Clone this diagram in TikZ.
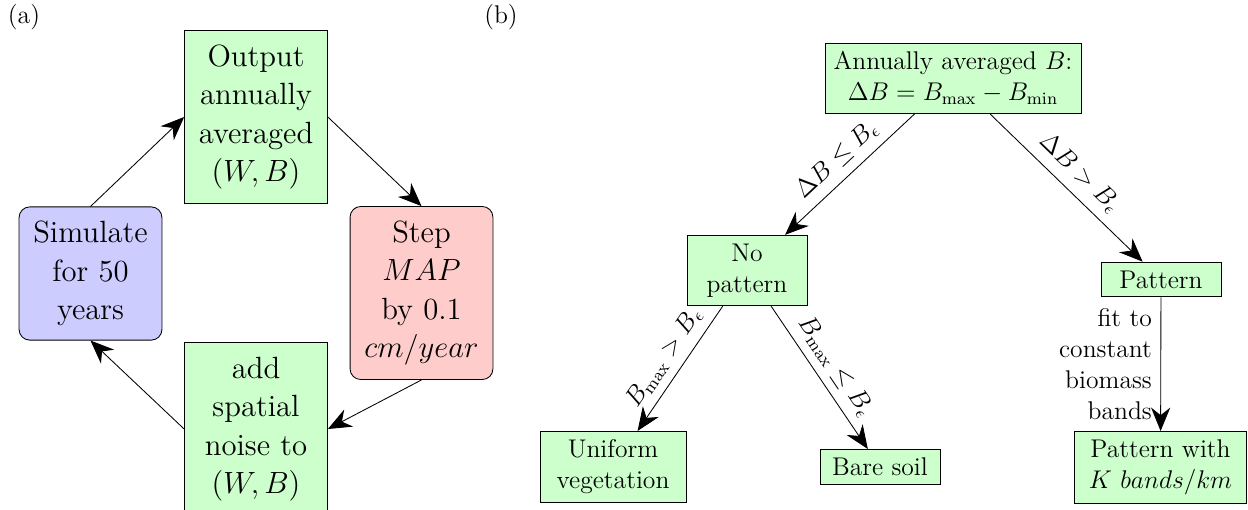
\documentclass[tikz,border=0pt,12pt]{standalone}
\usepackage{amsmath}
\usepackage{amssymb}
\usetikzlibrary{arrows.meta}

\tikzset{
    box/.style={draw, fill=green!20, align=center},
    loopbox/.style={box, font=\large, text width=59pt, inner ysep=6.7pt},
    treebox/.style={box, minimum width=56.3pt},
    flow/.style={-{Stealth[length=11pt,width=9pt]}},
}

\begin{document}
\begin{tikzpicture}[x=0.469pt, y=-0.469pt]
    \useasboundingbox (0,0) rectangle (1248,509);

    % (a): one step of the MAP sweep
    \node (lbla) at (24,17) {(a)};
    \node[loopbox] (output) at (256,117) {Output\\annually\\averaged\\$(W,B)$};
    \node[loopbox, fill=red!20, rounded corners=5pt] (stepmap) at (421.5,293) {Step\\$MAP$\\by 0.1\\$cm/year$};
    \node[loopbox] (noise) at (256,429) {add\\spatial\\noise to\\$(W,B)$};
    \node[loopbox, fill=blue!20, rounded corners=5pt] (simulate) at (90.5,273.5) {Simulate\\for 50\\years};

    \draw[flow] (simulate.north) -- (output.west);
    \draw[flow] (output.east) -- (stepmap.north);
    \draw[flow] (stepmap.south) -- (noise.east);
    \draw[flow] (noise.west) -- (simulate.south);

    % (b): classifying the final state
    \node (lblb) at (501,17) {(b)};
    \node[treebox] (avg) at (953,78) {Annually averaged $B$:\\$\Delta B = B_{\max} - B_{\min}$};
    \node[treebox] (nopat) at (747,270.5) {No\\pattern};
    \node[treebox] (pat) at (1161,279.5) {Pattern};
    \node[treebox, minimum width=68.5pt] (uniform) at (613,467) {Uniform\\vegetation};
    \node[treebox] (bare) at (880,467) {Bare soil};
    \node[treebox, minimum width=81pt] (bands) at (1160.5,467.5) {Pattern with\\$K\ bands/km$};

    \draw[flow] (avg) -- node[midway, above, sloped] {$\Delta B \leq B_\epsilon$} (nopat);
    \draw[flow] (avg) -- node[midway, above, sloped] {$\Delta B > B_\epsilon$} (pat);
    \draw[flow] (nopat) -- node[midway, above, sloped] {$B_{\max} > B_\epsilon$} (uniform);
    \draw[flow] (nopat) -- node[midway, above, sloped] {$B_{\max} \leq B_\epsilon$} (bare);
    \draw[flow] (pat) -- node[midway, left, align=right] {fit to\\constant\\biomass\\bands} (bands);
\end{tikzpicture}
\end{document}
